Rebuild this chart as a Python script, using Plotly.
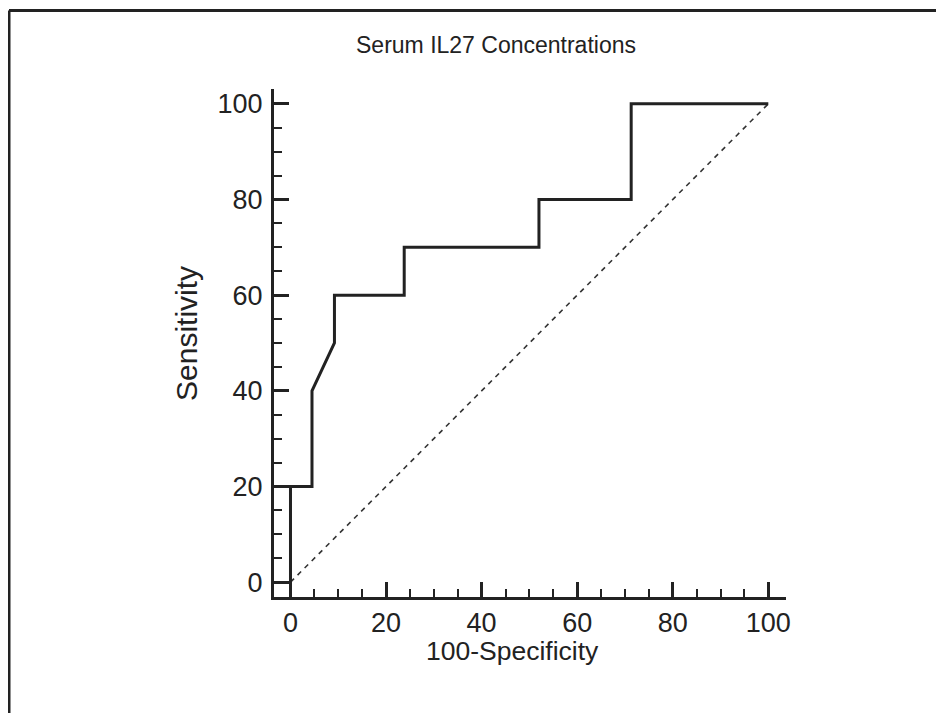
import plotly.graph_objects as go

# ---- data ----
fpr = [0, 0, 4.5, 4.5, 9.2, 9.2, 23.8, 23.8, 52.0, 52.0, 71.3, 71.3, 100]
sensitivity = [0, 20, 20, 40, 50, 60, 60, 70, 70, 80, 80, 100, 100]
ref_x = [0, 100]
ref_y = [0, 100]
tick_vals = [0, 20, 40, 60, 80, 100]
title_text = "Serum IL27 Concentrations"
x_title = "100-Specificity"
y_title = "Sensitivity"

# ---- layout geometry (screen pixels; page body adds an 8px offset) ----
W, H = 944, 713
OFF = 8
L, R, T, B = 274, 786, 89, 597  # plot area in screen px
FONT = "Liberation Sans, Arial, Helvetica, sans-serif"
INK = "#222222"


def px(x):
    return (x - L) / (R - L)


def py(y):
    return (B - y) / (B - T)


fig = go.Figure()
fig.add_trace(go.Scatter(x=ref_x, y=ref_y, mode="lines",
                         line=dict(color="#333333", width=1.6, dash="5px,5px"),
                         hoverinfo="skip", showlegend=False))
fig.add_trace(go.Scatter(x=fpr, y=sensitivity, mode="lines",
                         line=dict(color=INK, width=3, shape="linear"),
                         showlegend=False))

axis_common = dict(
    showgrid=False, zeroline=False,
    showline=True, linecolor=INK, linewidth=3,
    ticks="inside", ticklen=15, tickwidth=2.5, tickcolor=INK,
    tickvals=tick_vals,
    tickfont=dict(family=FONT, size=27, color=INK),
    minor=dict(ticks="inside", ticklen=8, tickwidth=2, tickcolor=INK, dtick=5, tick0=0, showgrid=False),
)
fig.update_xaxes(range=[-3.45, 103.7], **axis_common)
fig.update_yaxes(range=[-3.1, 103.1], ticklabelstandoff=3, **axis_common)

fig.update_layout(
    width=W, height=H, autosize=False,
    margin=dict(l=L - OFF, r=W - (R - OFF), t=T - OFF, b=H - (B - OFF), pad=0),
    paper_bgcolor="white", plot_bgcolor="white",
    font=dict(family=FONT, color=INK),
    annotations=[
        dict(text=title_text, x=px(496), y=py(45), xref="paper", yref="paper",
             showarrow=False, xanchor="center", yanchor="middle",
             font=dict(family=FONT, size=23, color=INK)),
        dict(text=x_title, x=px(512), y=py(651), xref="paper", yref="paper",
             showarrow=False, xanchor="center", yanchor="middle",
             font=dict(family=FONT, size=26.5, color=INK)),
        dict(text=y_title, x=px(186), y=py(334), xref="paper", yref="paper",
             showarrow=False, xanchor="center", yanchor="middle", textangle=-90,
             font=dict(family=FONT, size=30, color=INK)),
    ],
    shapes=[
        dict(type="line", xref="paper", yref="paper", x0=px(9), x1=px(970), y0=py(10.5), y1=py(10.5),
             line=dict(color=INK, width=3)),
        dict(type="line", xref="paper", yref="paper", x0=px(9), x1=px(9), y0=py(10.5), y1=py(740),
             line=dict(color=INK, width=3)),
    ],
)

fig.write_html("out.html")
